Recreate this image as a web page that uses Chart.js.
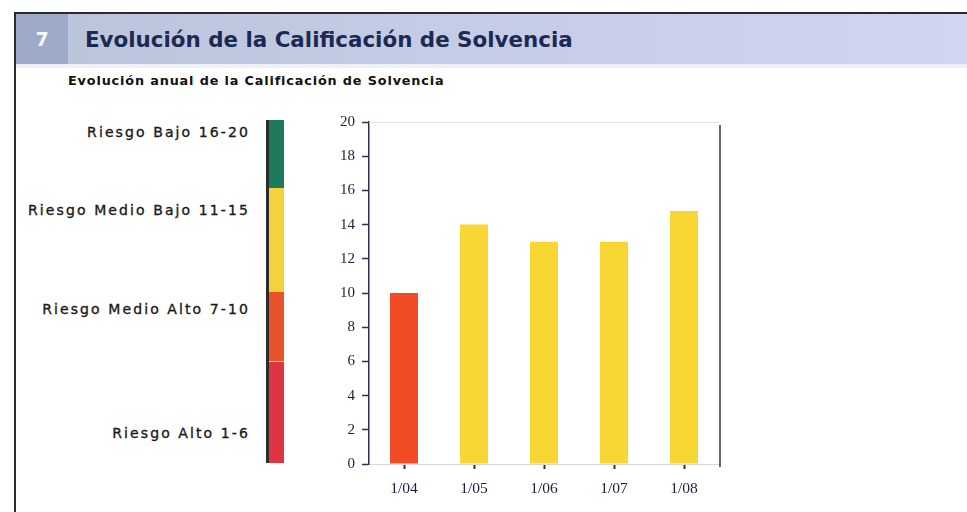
<!DOCTYPE html>
<html>
<head>
<meta charset="utf-8">
<script src="https://cdn.jsdelivr.net/npm/chart.js@4/dist/chart.umd.min.js"></script>
<style>
  html,body{margin:0;padding:0;background:#fff;}
  body{width:967px;height:512px;position:relative;overflow:hidden;font-family:"DejaVu Sans",Verdana,sans-serif;}
  #topline{position:absolute;left:16px;top:12px;width:951px;height:2px;background:#2a2a2a;}
  #leftline{position:absolute;left:14px;top:12px;width:2px;height:500px;background:#2a2a2a;}
  #band{position:absolute;left:16px;top:14px;width:951px;height:50px;
        background:linear-gradient(90deg,#b9c3da 0%,#c4cbe4 40%,#cbd0ec 75%,#d2d5f0 100%);}
  #band2{position:absolute;left:16px;top:64px;width:951px;height:4px;background:#eef0f8;}
  #num{position:absolute;left:16px;top:14px;width:52px;height:50px;background:#9dabc8;
       color:#f4f6fb;font:bold 19px "DejaVu Sans";line-height:50px;text-align:center;}
  #title{position:absolute;left:85px;top:27px;font:bold 21.4px "DejaVu Sans";color:#1b2a52;white-space:nowrap;}
  #subtitle{position:absolute;left:68px;top:73px;font:bold 12.8px "DejaVu Sans";letter-spacing:0.85px;color:#111;white-space:nowrap;}
  .lab{position:absolute;right:717px;font:14px "DejaVu Sans";letter-spacing:2.1px;color:#1a1a1a;white-space:nowrap;
       -webkit-text-stroke:0.35px #1a1a1a;}
  #scale{position:absolute;left:266px;top:120px;width:18px;height:343px;display:flex;flex-direction:column;
         border-left:3px solid #2c2c2c;box-sizing:border-box;}
  #scale div{width:100%;}
  #wrap{position:absolute;left:300px;top:100px;width:440px;height:412px;}
</style>
</head>
<body>
<div id="band"></div>
<div id="band2"></div>
<div id="topline"></div>
<div id="leftline"></div>
<div id="num">7</div>
<div id="title">Evolución de la Calificación de Solvencia</div>
<div id="subtitle">Evolución anual de la Calificación de Solvencia</div>

<div class="lab" style="top:124px">Riesgo Bajo 16-20</div>
<div class="lab" style="top:202px">Riesgo Medio Bajo 11-15</div>
<div class="lab" style="top:301px">Riesgo Medio Alto 7-10</div>
<div class="lab" style="top:425px">Riesgo Alto 1-6</div>
<div id="scale"></div>

<div id="wrap"><canvas id="c"></canvas></div>

<script>
// ---- data ----
const categories = ["1/04", "1/05", "1/06", "1/07", "1/08"];
const ratings = [10, 14, 13, 13, 14.8];
const barColors = ["#f04b24", "#f8d633", "#f8d633", "#f8d633", "#f8d633"];
const yTicks = [0, 2, 4, 6, 8, 10, 12, 14, 16, 18, 20];
// risk band legend (relative heights as seen in the picture)
const bandColors = ["#1e7a5c", "#f3d23c", "#e8532b", "#df3441"];
const bandHeights = [68, 105, 69, 101];

// legend band
const scale = document.getElementById('scale');
bandColors.forEach((c, i) => {
  const d = document.createElement('div');
  d.style.background = c;
  d.style.flex = bandHeights[i] + ' 0 0';
  if (i === 3) d.style.borderTop = '1px solid #f6c9b8';
  scale.appendChild(d);
});

const frame = {
  id: 'frame',
  afterDraw(chart) {
    const {ctx, chartArea: a} = chart;
    ctx.save();
    ctx.strokeStyle = '#e2e2e2';
    ctx.lineWidth = 1;
    ctx.beginPath(); ctx.moveTo(a.left, a.top + 0.5); ctx.lineTo(a.right, a.top + 0.5); ctx.stroke();
    ctx.strokeStyle = '#333';
    ctx.lineWidth = 1.5;
    ctx.beginPath(); ctx.moveTo(a.right + 1, a.top + 3); ctx.lineTo(a.right + 1, a.bottom + 3); ctx.stroke();
    ctx.restore();
  }
};

new Chart(document.getElementById('c'), {
  type: 'bar',
  data: {
    labels: categories,
    datasets: [{
      data: ratings,
      backgroundColor: barColors,
      borderWidth: 0,
      barPercentage: 0.4,
      categoryPercentage: 1.0
    }]
  },
  options: {
    responsive: true,
    maintainAspectRatio: false,
    animation: false,
    devicePixelRatio: 1,
    layout: {padding: {top: 22, right: 21, left: 0, bottom: 0}},
    plugins: {legend: {display: false}, tooltip: {enabled: false}},
    scales: {
      x: {
        afterFit(s) { s.height = 48; },
        grid: {display: true, drawOnChartArea: false, offset: false, drawTicks: true,
               tickLength: 5, tickWidth: 2, tickColor: '#333'},
        border: {display: true, color: '#d8d8d8', width: 1},
        ticks: {color: '#1a1f3a', padding: 11, font: {family: 'Liberation Serif', size: 15.5}}
      },
      y: {
        min: 0, max: 20,
        afterFit(s) { s.width = 69; },
        afterBuildTicks(s) { s.ticks = yTicks.map(v => ({value: v})); },
        grid: {display: true, drawOnChartArea: false, drawTicks: true, tickLength: 7,
               tickWidth: 1.5, tickColor: '#2a2f55'},
        border: {display: true, color: '#2a2f55', width: 1.5},
        ticks: {color: '#1a1f3a', padding: 7, font: {family: 'Liberation Serif', size: 15}}
      }
    }
  },
  plugins: [frame]
});
</script>
</body>
</html>
